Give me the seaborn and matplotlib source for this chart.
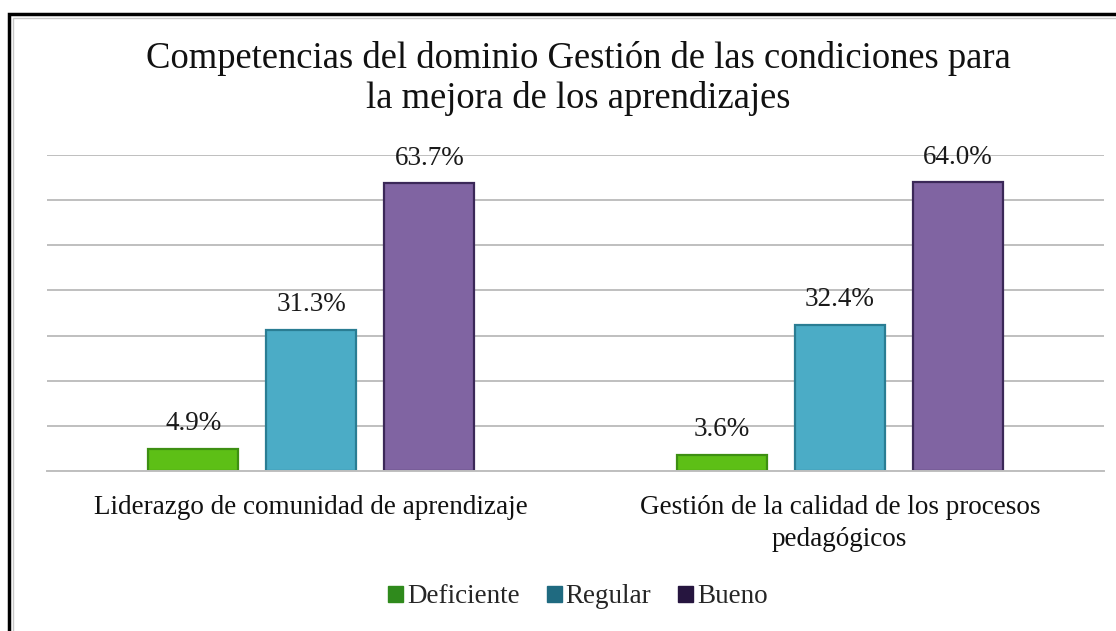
import matplotlib.pyplot as plt
import pandas as pd
import seaborn as sns
from matplotlib.patches import Patch, Rectangle

# Datos
categorias = ["Liderazgo de comunidad de aprendizaje",
              "Gestión de la calidad de los procesos\npedagógicos"]
niveles = ["Deficiente", "Regular", "Bueno"]
deficiente = [4.9, 3.6]
regular = [31.3, 32.4]
bueno = [63.7, 64.0]

colores = ["#5dbf16", "#4bacc6", "#8064a2"]
bordes = ["#3d8f12", "#2a7d93", "#3b2858"]
colores_leyenda = ["#2f8a1c", "#1f6a80", "#26153f"]

df = pd.DataFrame({
    "Competencia": categorias * 3,
    "Nivel": [n for n in niveles for _ in categorias],
    "Porcentaje": deficiente + regular + bueno,
})

sns.set_style("white")
plt.rcParams["font.family"] = ["Liberation Serif", "DejaVu Serif"]

fig = plt.figure(figsize=(11.16, 6.31), dpi=100)
ax = fig.add_axes([47 / 1116, 1 - 471 / 631, (1104 - 47) / 1116, (471 - 155) / 631])

sns.barplot(data=df, x="Competencia", y="Porcentaje", hue="Nivel",
            hue_order=niveles, palette=colores, width=0.67, gap=0.24,
            ax=ax, legend=False, saturation=1)

for cont, borde in zip(ax.containers, bordes):
    for bar in cont:
        bar.set_edgecolor(borde)
        bar.set_linewidth(1.6)
    ax.bar_label(cont, labels=[f"{v:.1f}%" for v in cont.datavalues],
                 padding=9, fontsize=19.5, color="#1a1a1a")

ax.set_ylim(0, 70)
ax.set_xlim(-0.5, 1.5)
ax.set_yticks(range(0, 71, 10))
ax.set_yticklabels([])
ax.yaxis.grid(True, color="#bfbfbf", linewidth=1.4)
ax.set_axisbelow(True)
for s in ["top", "right", "left"]:
    ax.spines[s].set_visible(False)
ax.spines["bottom"].set_color("#bfbfbf")
ax.spines["bottom"].set_linewidth(1.4)
ax.tick_params(axis="both", length=0)
ax.tick_params(axis="x", labelsize=19.5, pad=17)
ax.set_xlabel("")
ax.set_ylabel("")
for lbl in ax.get_xticklabels():
    lbl.set_linespacing(1.4)
    lbl.set_color("#111111")

fig.text(0.518, 0.876, "Competencias del dominio Gestión de las condiciones para\nla mejora de los aprendizajes",
         ha="center", va="center", fontsize=26.4, linespacing=1.18, color="#111111")

handles = [Patch(facecolor=c, edgecolor=c) for c in colores_leyenda]
fig.legend(handles, niveles, loc="center", bbox_to_anchor=(0.518, 0.054), ncol=3,
           frameon=False, fontsize=19.5, handlelength=0.55, handleheight=0.55,
           handletextpad=0.15, columnspacing=1.0)

# marco exterior (solo visible arriba e izquierda)
fig.patches.append(Rectangle((9 / 1116, -0.1), 1.2, 1 - 14 / 631 + 0.1,
                             transform=fig.transFigure, fill=False,
                             edgecolor="black", linewidth=2.5))
fig.patches.append(Rectangle((13 / 1116, -0.1), 1.2, 1 - 18 / 631 + 0.1,
                             transform=fig.transFigure, fill=False,
                             edgecolor="#c8c8c8", linewidth=1))

fig.savefig("out.png", dpi=100)
